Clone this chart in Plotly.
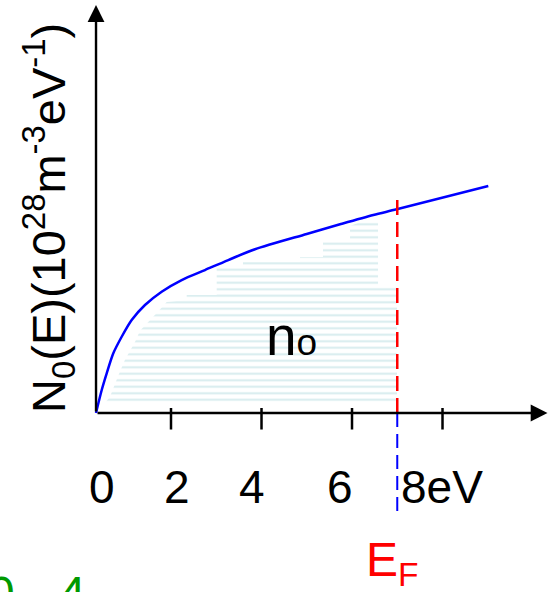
import plotly.graph_objects as go

# Density of states N0(E) in 1e28 m^-3 eV^-1, sampled along the drawn curve
curve_e = [0.343, 0.469, 0.579, 0.725, 0.910, 1.131, 1.425, 1.794, 2.236, 2.751,
           3.266, 3.856, 4.999, 5.735, 6.471, 6.988, 9.012]
curve_n = [0.000, 0.207, 0.357, 0.538, 0.687, 0.838, 0.973, 1.093, 1.198, 1.288,
           1.378, 1.475, 1.613, 1.700, 1.784, 1.835, 2.045]

# Shaded region of occupied states (n0) below the Fermi energy
fill_e = [0.519, 0.652, 0.829, 0.983, 1.204, 1.315, 1.684, 1.905, 2.347, 2.347,
          3.010, 3.010, 3.591, 3.591, 4.851, 4.851, 5.359, 5.359, 5.956, 5.956,
          6.309, 6.575, 6.575, 6.994, 6.994, 0.519]
fill_n = [0.081, 0.147, 0.330, 0.480, 0.640, 0.740, 0.900, 1.000, 1.018, 1.063,
          1.063, 1.306, 1.306, 1.360, 1.360, 1.405, 1.405, 1.541, 1.541, 1.685,
          1.739, 1.739, 1.153, 1.153, 0.081, 0.081]

fermi_energy = 7.0
fermi_top = 1.919
tick_values = [2, 4, 6, 8]
tick_labels = ["0", "2", "4", "6", "8eV"]
tick_label_e = [0.475, 2.13, 3.79, 5.73, 7.99]

axis_e0 = 0.343          # energy where the vertical axis is drawn
x_range = [-1.779, 10.508]
y_range = [-1.613, 3.721]
FONT = "Liberation Sans, Arial, sans-serif"

fig = go.Figure()

fig.add_trace(go.Scatter(
    x=fill_e, y=fill_n, mode="lines", line=dict(width=0),
    fill="toself", fillcolor="rgba(255,255,255,0)",
    fillpattern=dict(shape="-", fgcolor="#aed8de", size=6.5, solidity=0.3),
    hoverinfo="skip"))

fig.add_trace(go.Scatter(
    x=curve_e, y=curve_n, mode="lines",
    line=dict(color="#0000ff", width=2.5, shape="spline", smoothing=0.8),
    hoverinfo="skip"))

shapes = []
# Fermi level marker: red above the energy axis, blue below it
shapes.append(dict(type="line", x0=fermi_energy, x1=fermi_energy, y0=0, y1=fermi_top,
                   xref="x", yref="y", line=dict(color="#ff0000", width=2.5, dash="15px,7px")))
shapes.append(dict(type="line", x0=fermi_energy, x1=fermi_energy, y0=0, y1=-0.937,
                   xref="x", yref="y", line=dict(color="#0000ff", width=2, dash="14px,7px")))
# tick marks on the energy axis
for t in tick_values:
    shapes.append(dict(type="line", x0=t, x1=t, y0=0.045, y1=-0.149, xref="x", yref="y",
                       line=dict(color="black", width=2.5)))

annotations = []
# axes with arrow heads
annotations.append(dict(x=axis_e0, y=3.675, ax=axis_e0, ay=0, xref="x", yref="y",
                        axref="x", ayref="y", showarrow=True, arrowhead=2,
                        arrowsize=1.4, arrowwidth=2.4, arrowcolor="black", text=""))
annotations.append(dict(x=10.32, y=0, ax=axis_e0, ay=0, xref="x", yref="y",
                        axref="x", ayref="y", showarrow=True, arrowhead=2,
                        arrowsize=1.4, arrowwidth=2.4, arrowcolor="black", text=""))

for e, lab in zip(tick_label_e, tick_labels):
    annotations.append(dict(x=e, y=-0.67, xref="x", yref="y", text=lab, showarrow=False,
                            xanchor="center", yanchor="middle",
                            font=dict(family=FONT, size=46, color="black")))

annotations.append(dict(x=49 / 556, y=1 - 218 / 592, xref="paper", yref="paper",
                        text="N<sub>0</sub>(E)(10<sup>28</sup>m<sup>-3</sup>eV<sup>-1</sup>)",
                        textangle=-90, showarrow=False, xanchor="center", yanchor="middle",
                        font=dict(family=FONT, size=47, color="black")))

annotations.append(dict(x=4.67, y=0.69, xref="x", yref="y",
                        text="n<span style='font-size:37px'>o</span>", showarrow=False,
                        xanchor="center", yanchor="middle",
                        font=dict(family=FONT, size=55, color="black")))

annotations.append(dict(x=6.89, y=-1.35, xref="x", yref="y", text="E<sub>F</sub>",
                        showarrow=False, xanchor="center", yanchor="middle",
                        font=dict(family=FONT, size=48, color="#ff0000")))

annotations.append(dict(x=1 / 556, y=27 / 592, xref="paper", yref="paper", text="0",
                        showarrow=False, xanchor="center", yanchor="top",
                        font=dict(family=FONT, size=48, color="#009900")))
annotations.append(dict(x=72 / 556, y=27 / 592, xref="paper", yref="paper", text="4",
                        showarrow=False, xanchor="center", yanchor="top",
                        font=dict(family=FONT, size=48, color="#009900")))

fig.update_layout(
    width=556, height=592, margin=dict(l=0, r=0, t=0, b=0),
    paper_bgcolor="white", plot_bgcolor="white", showlegend=False,
    xaxis=dict(range=x_range, visible=False, fixedrange=True),
    yaxis=dict(range=y_range, visible=False, fixedrange=True),
    shapes=shapes, annotations=annotations,
)

fig.write_html("out.html")
